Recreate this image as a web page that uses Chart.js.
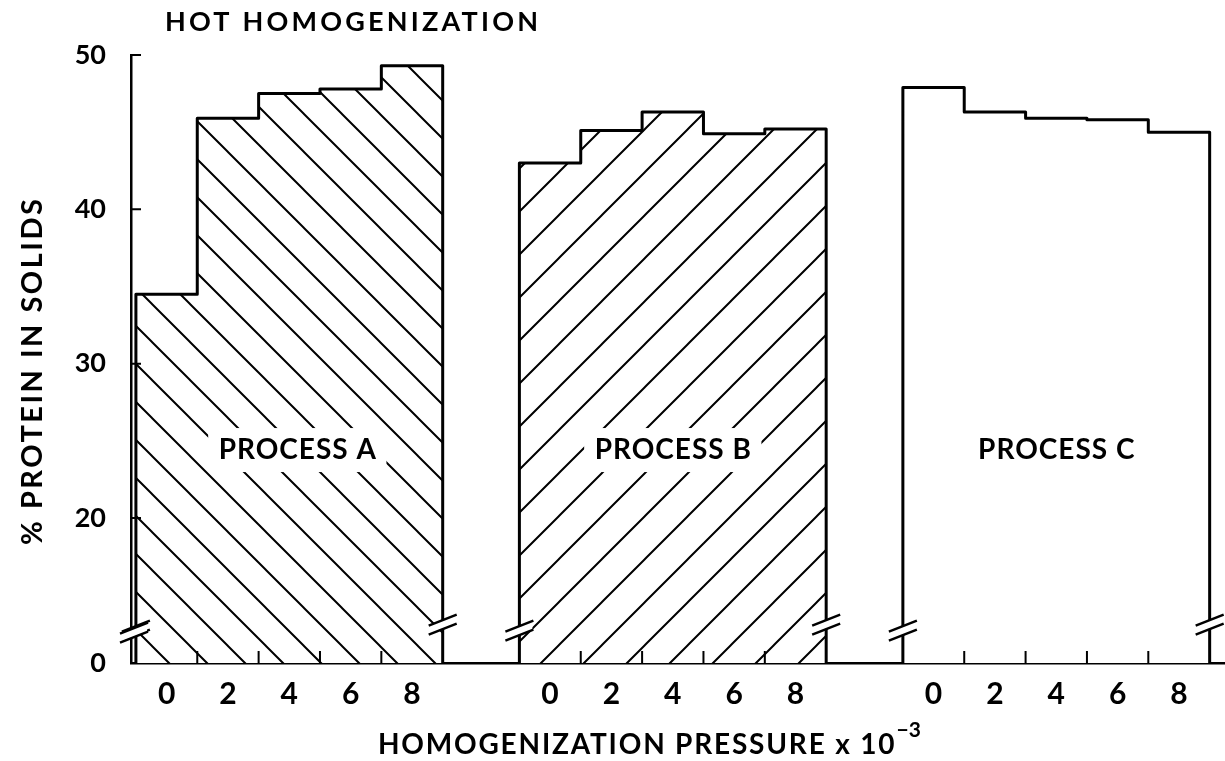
<!DOCTYPE html>
<html>
<head>
<meta charset="utf-8">
<script src="https://cdn.jsdelivr.net/npm/chart.js@4.4.1/dist/chart.umd.min.js"></script>
<style>
  html, body { margin: 0; padding: 0; background: #fff; }
</style>
</head>
<body>
<canvas id="chart" width="1225" height="761"></canvas>
<script>
// values (% protein in solids)
const pressures = [0, 2, 4, 6, 8]
const processNames = ["PROCESS A", "PROCESS B", "PROCESS C"]
const processA = [34.5, 45.9, 47.5, 47.8, 49.3]
const processB = [43.0, 45.1, 46.3, 44.9, 45.2]
const processC = [47.9, 46.3, 45.9, 45.8, 45.0]
const yTicks = [20, 30, 40, 50]

const FONT = "Lato"
const Y_MIN = 10.6          // broken axis: bottom of the plot is labelled 0
const BREAK_AT = 12.7       // where the break marks sit
const PANEL_STEP = pressures.length + 1.25
const X_MIN = -0.58
const X_MAX = 2 * PANEL_STEP + pressures.length - 0.25

const canvas = document.getElementById("chart")
const ctx = canvas.getContext("2d")

function hatch(size, dir) {
  const c = document.createElement("canvas")
  c.width = size
  c.height = size
  const g = c.getContext("2d")
  g.fillStyle = "#fff"
  g.fillRect(0, 0, size, size)
  g.strokeStyle = "#000"
  g.lineWidth = 2
  g.beginPath()
  if (dir === "back") {
    g.moveTo(-2, -2); g.lineTo(size + 2, size + 2)
    g.moveTo(-2, size - 2); g.lineTo(2, size + 2)
    g.moveTo(size - 2, -2); g.lineTo(size + 2, 2)
  } else {
    g.moveTo(-2, size + 2); g.lineTo(size + 2, -2)
    g.moveTo(-2, 2); g.lineTo(2, -2)
    g.moveTo(size - 2, size + 2); g.lineTo(size + 2, size - 2)
  }
  g.stroke()
  return ctx.createPattern(c, "repeat")
}

const processValues = [processA, processB, processC]
const fills = [hatch(38, "back"), hatch(43, "fwd"), "#ffffff"]

function spacedText(c, text, x, y, spacing, align) {
  c.letterSpacing = spacing + "px"
  const w = c.measureText(text).width - spacing
  let sx = x
  if (align === "center") sx = x - w / 2
  c.textAlign = "left"
  c.fillText(text, sx, y)
  c.letterSpacing = "0px"
  return w
}

function breakMark(c, x, y) {
  c.save()
  c.fillStyle = "#fff"
  c.beginPath()
  c.moveTo(x - 13, y + 9)
  c.lineTo(x + 13, y - 1)
  c.lineTo(x + 13, y - 9)
  c.lineTo(x - 13, y + 1)
  c.closePath()
  c.fill()
  c.strokeStyle = "#000"
  c.lineWidth = 2.5
  c.beginPath()
  c.moveTo(x - 14, y + 10); c.lineTo(x + 14, y - 1)
  c.moveTo(x - 14, y + 1); c.lineTo(x + 14, y - 10)
  c.stroke()
  c.restore()
}

const decorations = {
  id: "decorations",
  afterDatasetsDraw(chart) {
    const c = chart.ctx
    const area = chart.chartArea
    const y = chart.scales.y
    c.save()
    c.strokeStyle = "#000"
    c.fillStyle = "#000"

    chart.data.datasets.forEach((ds, p) => {
      const bars = chart.getDatasetMeta(p).data
      const first = bars[0]
      const last = bars[bars.length - 1]

      // step outline of the panel
      c.lineWidth = 3
      c.lineJoin = "round"
      c.beginPath()
      c.moveTo(first.x - first.width / 2, first.base)
      bars.forEach(b => {
        c.lineTo(b.x - b.width / 2, b.y)
        c.lineTo(b.x + b.width / 2, b.y)
      })
      c.lineTo(last.x + last.width / 2, last.base)
      c.stroke()

      // tick marks between pressures, pointing up from the axis
      c.lineWidth = 2
      c.beginPath()
      for (let i = 0; i < bars.length - 1; i++) {
        const bx = (bars[i].x + bars[i + 1].x) / 2
        c.moveTo(bx, area.bottom)
        c.lineTo(bx, area.bottom - 12)
      }
      c.stroke()

      const by = y.getPixelForValue(BREAK_AT)
      breakMark(c, first.x - first.width / 2, by)
      breakMark(c, last.x + last.width / 2, by - 6)

      // panel label on a white patch
      c.font = "bold 28px " + FONT
      c.letterSpacing = "1px"
      const lx = (first.x + last.x) / 2 + (p === 0 ? 8 : 0)
      const ly = y.getPixelForValue(24.4)
      const tw = c.measureText(processNames[p]).width
      c.letterSpacing = "0px"
      c.fillStyle = "#fff"
      c.fillRect(lx - tw / 2 - 10, ly - 22, tw + 20, 44)
      c.fillStyle = "#000"
      c.textBaseline = "middle"
      spacedText(c, processNames[p], lx, ly, 1, "center")
    })

    // inward ticks on the value axis
    c.lineWidth = 2
    c.beginPath()
    yTicks.forEach(v => {
      const py = y.getPixelForValue(v)
      c.moveTo(area.left, py)
      c.lineTo(area.left + 10, py)
    })
    c.stroke()
    breakMark(c, area.left + 3, y.getPixelForValue(BREAK_AT) + 2)

    // titles
    c.fillStyle = "#000"
    c.textBaseline = "alphabetic"
    c.font = "bold 27px " + FONT
    spacedText(c, "HOT HOMOGENIZATION", 165, 31, 3.2, "left")

    c.font = "bold 28px " + FONT
    const xt = "HOMOGENIZATION PRESSURE x 10"
    const x0 = 378
    const xw = spacedText(c, xt, x0, 754, 1.8, "left")
    c.font = "bold 21px " + FONT
    c.fillText("\u22123", x0 + xw + 2, 737)

    c.save()
    c.translate(33, 372)
    c.rotate(-Math.PI / 2)
    c.font = "bold 29px " + FONT
    c.textBaseline = "middle"
    spacedText(c, "% PROTEIN IN SOLIDS", 0, 0, 2.5, "center")
    c.restore()

    c.restore()
  }
}

new Chart(canvas, {
  type: "bar",
  data: {
    datasets: processValues.map((vals, p) => ({
      label: processNames[p],
      data: vals.map((v, i) => ({ x: p * PANEL_STEP + i, y: v })),
      backgroundColor: fills[p],
      borderWidth: 0,
      base: Y_MIN,
      grouped: false,
      barPercentage: 1,
      categoryPercentage: 1,
    })),
  },
  options: {
    responsive: false,
    devicePixelRatio: 1,
    animation: false,
    layout: {
      padding: { top: 55, right: 0, bottom: 0, left: 0 },
    },
    plugins: {
      legend: { display: false },
      tooltip: { enabled: false },
      title: { display: false },
    },
    scales: {
      x: {
        type: "linear",
        offset: false,
        min: X_MIN,
        max: X_MAX,
        afterBuildTicks: scale => {
          scale.ticks = []
          processValues.forEach((vals, p) => {
            vals.forEach((v, i) => scale.ticks.push({ value: p * PANEL_STEP + i }))
          })
        },
        afterFit: scale => { scale.height = 98 },
        ticks: {
          autoSkip: false,
          maxRotation: 0,
          padding: 5,
          color: "#000",
          font: { family: FONT, size: 30, weight: "bold" },
          callback: (value, index) => String(pressures[index % pressures.length]),
        },
        grid: { display: false, offset: false },
        border: { display: true, color: "#000", width: 2.5 },
      },
      y: {
        type: "linear",
        min: Y_MIN,
        max: 50,
        afterBuildTicks: scale => {
          scale.ticks = [Y_MIN, ...yTicks].map(v => ({ value: v }))
        },
        afterFit: scale => { scale.width = 131 },
        ticks: {
          padding: 17,
          color: "#000",
          font: { family: FONT, size: 27, weight: "bold" },
          callback: value => value === Y_MIN ? "0" : String(value),
        },
        grid: { display: false },
        border: { display: true, color: "#000", width: 2.5 },
      },
    },
  },
  plugins: [decorations],
})
</script>
</body>
</html>
